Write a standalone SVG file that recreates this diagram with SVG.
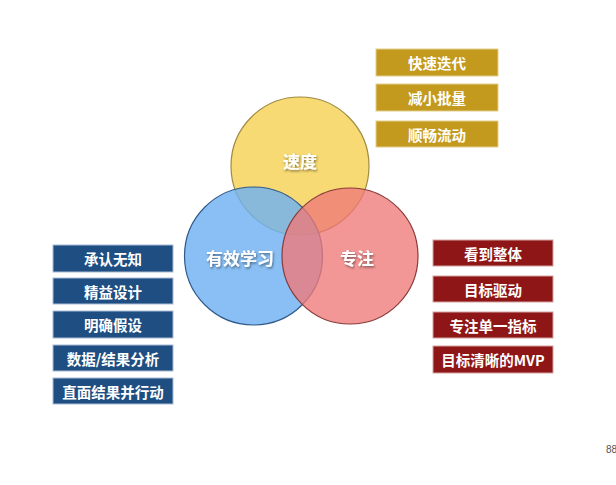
<svg xmlns="http://www.w3.org/2000/svg" width="616" height="485" viewBox="0 0 616 485">
<defs>
<filter id="sh" x="-20%" y="-20%" width="140%" height="140%">
<feDropShadow dx="1" dy="1.5" stdDeviation="1" flood-color="#000" flood-opacity="0.45"/>
</filter>
</defs>
<style>
.c{stroke-width:1.2}
.lbl{font-family:"Noto Sans CJK SC","Noto Sans",sans-serif;font-size:17px;font-weight:bold;fill:#fff;text-anchor:middle;dominant-baseline:central}
.bt{font-family:"Noto Sans CJK SC","Liberation Sans",sans-serif;font-size:14.5px;font-weight:bold;fill:#fff;text-anchor:middle;dominant-baseline:central}
.y{fill:#C39A1E;stroke:#E3CF8C;stroke-width:1}
.b{fill:#1E4E82;stroke:#A9BCD3;stroke-width:1}
.r{fill:#8E1616;stroke:#D3A3A3;stroke-width:1}
</style>
<rect width="616" height="485" fill="#fff"/>
<g id="circles">
<g id="speed">
<circle class="c" cx="300" cy="166" r="69" fill="#F6D45A" fill-opacity="0.85" stroke="#A08A40"/>
</g>
<g id="learning">
<circle class="c" cx="253.5" cy="256" r="69" fill="#6FB1F2" fill-opacity="0.82" stroke="#2F5A8A"/>
</g>
<g id="focus">
<circle class="c" cx="350" cy="256" r="68" fill="#F07878" fill-opacity="0.78" stroke="#8A3A3A"/>
</g>
<text class="lbl" x="300" y="160" filter="url(#sh)">速度</text>
<text class="lbl" x="240" y="257" filter="url(#sh)">有效学习</text>
<text class="lbl" x="357" y="257" filter="url(#sh)">专注</text>
</g>
<g id="speed-items">
<g id="y1"><rect class="y" x="376" y="49" width="122" height="27"/><text class="bt" x="437" y="62.5">快速迭代</text></g>
<g id="y2"><rect class="y" x="376" y="84" width="122" height="27"/><text class="bt" x="437" y="97.5">减小批量</text></g>
<g id="y3"><rect class="y" x="376" y="121" width="122" height="26"/><text class="bt" x="437" y="134">顺畅流动</text></g>
</g>
<g id="learning-items">
<g id="b1"><rect class="b" x="53" y="245" width="120" height="27"/><text class="bt" x="113" y="258.5">承认无知</text></g>
<g id="b2"><rect class="b" x="53" y="278" width="120" height="26"/><text class="bt" x="113" y="291">精益设计</text></g>
<g id="b3"><rect class="b" x="53" y="311" width="120" height="27"/><text class="bt" x="113" y="324.5">明确假设</text></g>
<g id="b4"><rect class="b" x="53" y="345" width="120" height="26"/><text class="bt" x="113" y="358">数据/结果分析</text></g>
<g id="b5"><rect class="b" x="53" y="378" width="120" height="26"/><text class="bt" x="113" y="391">直面结果并行动</text></g>
</g>
<g id="focus-items">
<g id="r1"><rect class="r" x="433" y="240" width="120" height="26"/><text class="bt" x="493" y="253">看到整体</text></g>
<g id="r2"><rect class="r" x="433" y="276" width="120" height="26"/><text class="bt" x="493" y="289">目标驱动</text></g>
<g id="r3"><rect class="r" x="433" y="312" width="120" height="26"/><text class="bt" x="493" y="325">专注单一指标</text></g>
<g id="r4"><rect class="r" x="433" y="346" width="120" height="27"/><text class="bt" x="493" y="359.5">目标清晰的MVP</text></g>
</g>
<g id="connectors"/>
<text x="606" y="453" font-family="Liberation Sans,sans-serif" font-size="10" fill="#555">88</text>
</svg>
